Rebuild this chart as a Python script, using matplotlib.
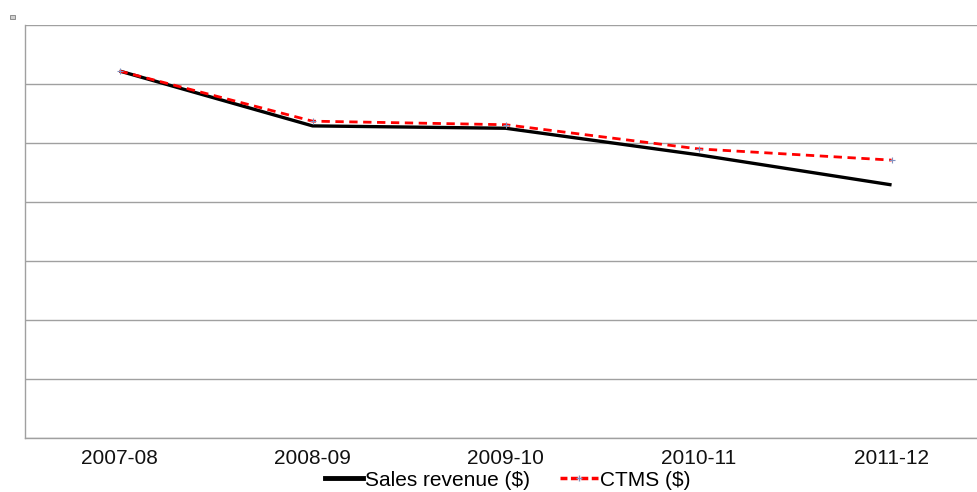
import matplotlib
matplotlib.use("Agg")
import matplotlib.pyplot as plt
from matplotlib.lines import Line2D
from matplotlib.patches import Rectangle

years = ["2007-08", "2008-09", "2009-10", "2010-11", "2011-12"]
sales_revenue = [6.22, 5.29, 5.25, 4.80, 4.29]
ctms = [6.22, 5.37, 5.31, 4.90, 4.71]

plt.rcParams["font.family"] = ["Liberation Sans", "DejaVu Sans"]

fig = plt.figure(figsize=(9.78, 4.92), dpi=100)
# plot area runs past the right edge, as in the reference
ax = fig.add_axes([25 / 978, 54 / 492, 965 / 978, 413 / 492])

x = range(len(years))
ax.plot(x, sales_revenue, color="black", linewidth=2.4, solid_capstyle="butt", zorder=3)
ax.plot(x, ctms, color="#ff0000", linewidth=2.0, linestyle=(0, (3, 2)),
        marker="+", markersize=5, markeredgecolor="#8090c0", markeredgewidth=0.8, zorder=4)

ax.set_xlim(-0.49, 4.51)
ax.set_ylim(0, 7)
ax.set_yticks(range(8))
ax.set_yticklabels([])
ax.set_xticks(list(x))
ax.set_xticklabels(years, fontsize=15, color="#111111")
ax.tick_params(axis="both", length=0, pad=8)
ax.grid(axis="y", color="#a0a0a0", linewidth=1.0)
for side in ["top", "right"]:
    ax.spines[side].set_visible(False)
for side in ["left", "bottom"]:
    ax.spines[side].set_color("#a0a0a0")
    ax.spines[side].set_linewidth(1.0)

handles = [
    Line2D([], [], color="black", linewidth=3.5),
    Line2D([], [], color="#ff0000", linewidth=2.5, linestyle=(0, (2, 1)),
           marker="+", markersize=5, markeredgecolor="#8090c0"),
]
fig.legend(handles, ["Sales revenue ($)", "CTMS ($)"], loc="center",
           bbox_to_anchor=(0.519, 0.024), ncol=2, frameon=False, fontsize=15,
           handlelength=1.85, handletextpad=0.08, columnspacing=1.45,
           borderpad=0, borderaxespad=0)

# small square mark at top-left corner
fig.patches.append(Rectangle((10 / 978, 1 - 19 / 492), 5 / 978, 4 / 492,
                             transform=fig.transFigure, facecolor="#d0d0d0",
                             edgecolor="#808080", linewidth=0.6))

fig.savefig("out.png", dpi=100)
